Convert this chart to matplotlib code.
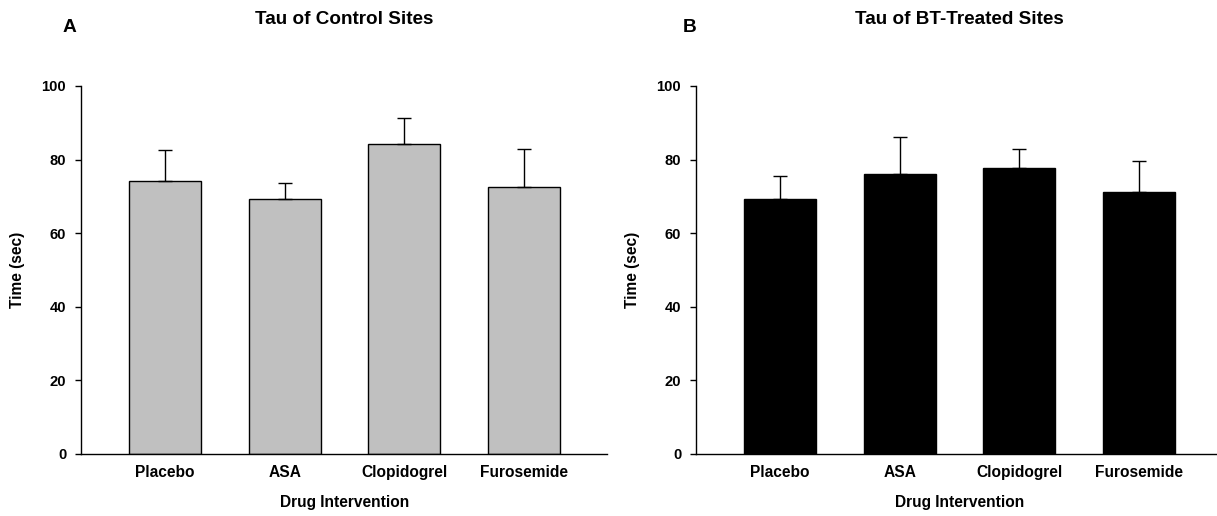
import matplotlib
matplotlib.use("Agg")
import matplotlib.pyplot as plt
import numpy as np

plt.rcParams['font.family'] = ['Liberation Sans', 'DejaVu Sans']
plt.rcParams['font.weight'] = 'bold'

# %% data
drugs = ['Placebo', 'ASA', 'Clopidogrel', 'Furosemide']
control_mean = [74.3, 69.2, 84.1, 72.6]
control_sem = [8.2, 4.3, 7.3, 10.2]
treated_mean = [69.3, 76.2, 77.8, 71.2]
treated_sem = [6.1, 10.0, 5.1, 8.3]

panels = [
    ('A', 'Tau of Control Sites', control_mean, control_sem, '#c0c0c0', 0.0669),
    ('B', 'Tau of BT-Treated Sites', treated_mean, treated_sem, 'black', 0.5723),
]
letter_x = [69 / 1217, 690 / 1217]

fig = plt.figure(figsize=(12.17, 5.16), dpi=100)

for i, (letter, title, means, sems, color, left) in enumerate(panels):
    ax = fig.add_axes([left, 0.1202, 0.4322, 0.7132])
    x = np.arange(len(drugs))
    ax.bar(x, means, width=0.6, color=color, edgecolor='black', linewidth=1, zorder=2)
    ax.errorbar(x, means, yerr=[np.zeros(len(sems)), sems], fmt='none',
                ecolor='black', elinewidth=1, capsize=5, capthick=1, zorder=3)

    ax.set_xlim(-0.7, 3.7)
    ax.set_ylim(0, 100)
    ax.set_yticks([0, 20, 40, 60, 80, 100])
    ax.set_xticks(x)
    ax.set_xticklabels(drugs, fontsize=11.2, fontweight='bold')
    ax.tick_params(axis='x', length=0, pad=8)
    ax.tick_params(axis='y', direction='out', length=4, width=1, pad=7, labelsize=10.6)
    for lab in ax.get_yticklabels():
        lab.set_fontweight('bold')

    ax.spines['top'].set_visible(False)
    ax.spines['right'].set_visible(False)
    ax.spines['left'].set_linewidth(1)
    ax.spines['bottom'].set_linewidth(1)

    ax.set_ylabel('Time (sec)', fontsize=11.2, fontweight='bold')
    ax.yaxis.set_label_coords(-0.107, 0.5)
    ax.set_xlabel('Drug Intervention', fontsize=11.2, fontweight='bold')
    ax.xaxis.set_label_coords(0.5, -0.112)
    ax.set_title(title, fontsize=13.6, fontweight='bold', pad=44.6)

    fig.text(letter_x[i], 1 - 32 / 516, letter, fontsize=13.8, fontweight='bold',
             ha='center', va='baseline')

fig.savefig('out.png', dpi=100)
